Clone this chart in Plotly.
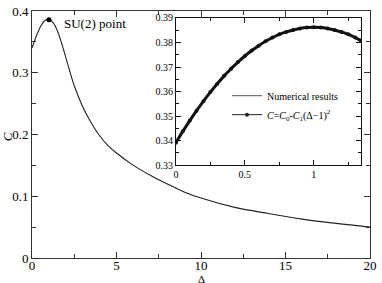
import plotly.graph_objects as go

# Main curve: C vs Delta
delta_main = [0, 0.25, 0.5, 0.75, 1.0, 1.25, 1.5, 1.75, 2.0, 2.5, 3.0, 3.5, 4.0, 4.5, 5.0, 6.0, 7.0, 8.0, 9.0, 10.0, 12.0, 14.0, 16.0, 18.0, 20.0]
c_main = [0.340, 0.359, 0.3745, 0.3843, 0.386, 0.381, 0.368, 0.348, 0.325, 0.279, 0.245, 0.219, 0.198, 0.182, 0.170, 0.150, 0.134, 0.120, 0.107, 0.097, 0.082, 0.072, 0.063, 0.056, 0.050]

# SU(2) point
su2_x = [1.0]
su2_y = [0.386]

# Inset: numerical results and fit
delta_inset = [0, 0.05, 0.1, 0.15, 0.2, 0.25, 0.3, 0.35, 0.4, 0.45, 0.5, 0.55, 0.6, 0.65, 0.7, 0.75, 0.8, 0.85, 0.9, 0.95, 1.0, 1.05, 1.1, 1.15, 1.2, 1.25, 1.3, 1.34]
c_inset = [0.3392, 0.3438, 0.3481, 0.3522, 0.3561, 0.3598, 0.3632, 0.3664, 0.3693, 0.3720, 0.3745, 0.3767, 0.3787, 0.3805, 0.3820, 0.3833, 0.3843, 0.3851, 0.3857, 0.3861, 0.3862, 0.3861, 0.3857, 0.3851, 0.3843, 0.3833, 0.3820, 0.3808]

main_xticks = [0, 5, 10, 15, 20]
main_yticks = [0, 0.1, 0.2, 0.3, 0.4]
main_yticklabels = ["0", "0.1", "0.2", "0.3", "0.4"]
inset_xticks = [0, 0.5, 1]
inset_xticklabels = ["0", "0.5", "1"]
inset_yticks = [0.33, 0.34, 0.35, 0.36, 0.37, 0.38, 0.39]

FONT = "Times New Roman, Liberation Serif, DejaVu Serif, serif"
FIT_NAME = "<i>C</i>=<i>C</i><sub>0</sub>-<i>C</i><sub>1</sub>(Δ−1)<sup>2</sup>"

fig = go.Figure()
fig.add_trace(go.Scatter(x=delta_main, y=c_main, mode="lines", line=dict(color="#222", width=1.1, shape="spline"),
                         showlegend=False, xaxis="x", yaxis="y"))
fig.add_trace(go.Scatter(x=su2_x, y=su2_y, mode="markers", marker=dict(color="black", size=5),
                         showlegend=False, xaxis="x", yaxis="y"))
# inset data (drawn thick, as dense markers in the reference)
fig.add_trace(go.Scatter(x=delta_inset, y=c_inset, mode="lines", showlegend=False,
                         line=dict(color="#555", width=1.5, shape="spline"), xaxis="x2", yaxis="y2"))
fig.add_trace(go.Scatter(x=delta_inset, y=c_inset, mode="lines+markers", showlegend=False,
                         line=dict(color="#111", width=3, shape="spline"),
                         marker=dict(color="#111", size=4, symbol="circle"),
                         xaxis="x2", yaxis="y2"))
# legend entries
fig.add_trace(go.Scatter(x=[None], y=[None], mode="lines", name="Numerical results",
                         line=dict(color="#777", width=1.2), xaxis="x2", yaxis="y2"))
fig.add_trace(go.Scatter(x=[None], y=[None], mode="lines+markers", name=FIT_NAME,
                         line=dict(color="#222", width=1),
                         marker=dict(color="#222", size=4, symbol="circle"),
                         xaxis="x2", yaxis="y2"))

fig.add_annotation(x=1.8, y=0.379, xref="x", yref="y", text="SU(2) point", showarrow=False,
                   xanchor="left", yanchor="middle", font=dict(family=FONT, size=13, color="black"))
fig.add_annotation(x=0.5, y=-0.085, xref="paper", yref="paper", text="Δ", showarrow=False,
                   xanchor="center", yanchor="middle", borderpad=0,
                   font=dict(family=FONT, size=11, color="black"))
fig.add_annotation(x=-0.07, y=0.49, xref="paper", yref="paper", text="<i>C</i>", showarrow=False,
                   textangle=-90, xanchor="center", yanchor="middle",
                   font=dict(family=FONT, size=13, color="black"))

axis_common = dict(showgrid=False, zeroline=False, showline=True, linecolor="#333", linewidth=1,
                   ticks="inside", mirror="ticks", tickcolor="#333")
inset_common = dict(showgrid=False, zeroline=False, showline=True, linecolor="#111", linewidth=1,
                    ticks="inside", mirror="ticks", tickcolor="#111")

fig.update_layout(
    width=382, height=283,
    margin=dict(l=32, r=7, t=5, b=25),
    plot_bgcolor="white", paper_bgcolor="white",
    font=dict(family=FONT, size=13, color="black"),
    xaxis=dict(range=[0, 20], tickvals=main_xticks, ticklen=6, ticklabelstandoff=-5,
               minor=dict(dtick=2.5, ticklen=4, ticks="inside", tickcolor="#333"),
               tickfont=dict(family=FONT, size=13), **axis_common),
    yaxis=dict(range=[0, 0.4], tickvals=main_yticks, ticktext=main_yticklabels, ticklen=6,
               minor=dict(dtick=0.05, ticklen=4, ticks="inside", tickcolor="#333"),
               tickfont=dict(family=FONT, size=13), **axis_common),
    xaxis2=dict(domain=[0.4257, 0.9738], anchor="y2", range=[0, 1.343], tickvals=inset_xticks,
                ticktext=inset_xticklabels, ticklen=5,
                minor=dict(dtick=0.25, ticklen=3, ticks="inside", tickcolor="#111"),
                tickfont=dict(family=FONT, size=10), **inset_common),
    yaxis2=dict(domain=[0.3755, 0.972], anchor="x2", range=[0.33, 0.39], tickvals=inset_yticks,
                ticklen=5, tickformat=".2f",
                minor=dict(dtick=0.005, ticklen=3, ticks="inside", tickcolor="#111"),
                tickfont=dict(family=FONT, size=10), **inset_common),
    legend=dict(x=0.577, y=0.716, xanchor="left", yanchor="top", bgcolor="rgba(0,0,0,0)",
                font=dict(family=FONT, size=10), tracegroupgap=0, itemwidth=30),
    showlegend=True,
)

fig.write_html("out.html", config={"displayModeBar": False},
               post_script="document.body.style.margin='0';")
